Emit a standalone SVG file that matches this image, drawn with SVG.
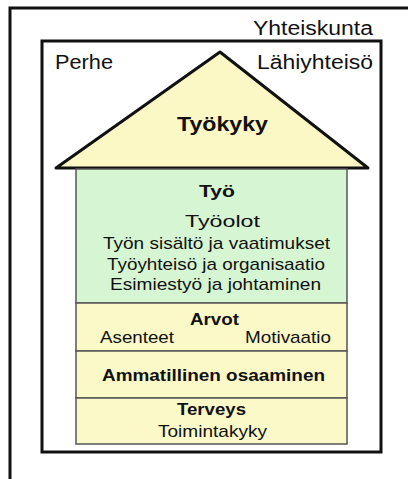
<svg xmlns="http://www.w3.org/2000/svg" width="408" height="479" viewBox="0 0 408 479">
<style>
text{font-family:"Liberation Sans",Arial,sans-serif;fill:#111}
.l{font-size:17px}
.b{font-size:17px;font-weight:bold}
.o{font-size:20px}
.layer{stroke:#555;stroke-width:1.5}
</style>
<rect width="408" height="479" fill="#fff"/>
<g id="yhteiskunta">
<rect x="10" y="8" width="420" height="500" fill="none" stroke="#111" stroke-width="3"/>
<text class="o" x="253" y="35" textLength="120" lengthAdjust="spacingAndGlyphs">Yhteiskunta</text>
</g>
<g id="lahiyhteiso">
<rect x="42" y="41" width="339" height="411" fill="none" stroke="#111" stroke-width="3"/>
<text class="o" x="55" y="69" textLength="58" lengthAdjust="spacingAndGlyphs">Perhe</text>
<text class="o" x="257" y="69" textLength="116" lengthAdjust="spacingAndGlyphs">Lähiyhteisö</text>
</g>
<g id="tyokyky">
<polygon points="220,52 368,168 56,168" fill="#fbf8c6" stroke="#111" stroke-width="3" stroke-linejoin="round"/>
<text class="b" x="177" y="131" style="font-size:20px" textLength="91" lengthAdjust="spacingAndGlyphs">Työkyky</text>
</g>
<g id="tyo">
<rect class="layer" x="76" y="169" width="271" height="134" fill="#d6f5d2"/>
<text class="b" x="199" y="197" textLength="36" lengthAdjust="spacingAndGlyphs">Työ</text>
<text class="l" x="185" y="227" textLength="75" lengthAdjust="spacingAndGlyphs">Työolot</text>
<text class="l" x="103" y="249" textLength="227" lengthAdjust="spacingAndGlyphs">Työn sisältö ja vaatimukset</text>
<text class="l" x="107" y="270" textLength="218" lengthAdjust="spacingAndGlyphs">Työyhteisö ja organisaatio</text>
<text class="l" x="110" y="290" textLength="211" lengthAdjust="spacingAndGlyphs">Esimiestyö ja johtaminen</text>
</g>
<g id="arvot">
<rect class="layer" x="76" y="303" width="271" height="48" fill="#fbf9c8"/>
<text class="b" x="190" y="325" textLength="49" lengthAdjust="spacingAndGlyphs">Arvot</text>
<text class="l" x="100" y="343" textLength="74" lengthAdjust="spacingAndGlyphs">Asenteet</text>
<text class="l" x="245" y="343" textLength="86" lengthAdjust="spacingAndGlyphs">Motivaatio</text>
</g>
<g id="osaaminen">
<rect class="layer" x="76" y="351" width="271" height="47" fill="#fbf9c8"/>
<text class="b" x="102" y="381" textLength="223" lengthAdjust="spacingAndGlyphs">Ammatillinen osaaminen</text>
</g>
<g id="terveys">
<rect class="layer" x="76" y="398" width="271" height="46" fill="#fbf9c8"/>
<text class="b" x="177" y="415" textLength="69" lengthAdjust="spacingAndGlyphs">Terveys</text>
<text class="l" x="158" y="437" textLength="109" lengthAdjust="spacingAndGlyphs">Toimintakyky</text>
</g>
<g id="connectors"/>
</svg>
